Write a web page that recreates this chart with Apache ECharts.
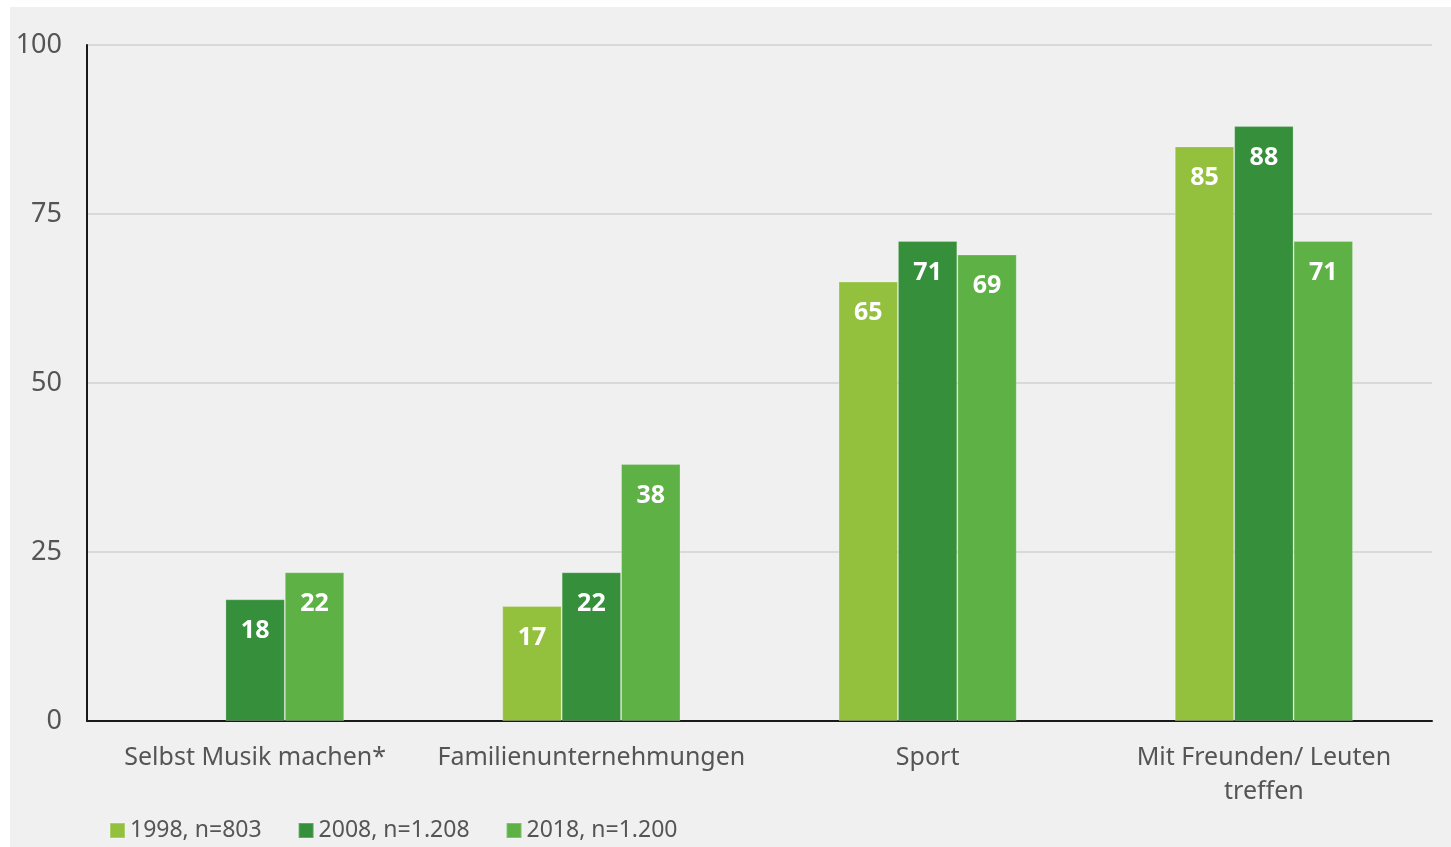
<!DOCTYPE html>
<html>
<head>
<meta charset="utf-8">
<script src="https://cdn.jsdelivr.net/npm/echarts@6/dist/echarts.min.js"></script>
<style>
  html, body { margin: 0; padding: 0; background: #ffffff; }
  #chart { width: 1451px; height: 847px; }
</style>
</head>
<body>
<div id="chart"></div>
<script>
// Freizeitaktivitäten im Vergleich der Erhebungsjahre (Angaben in Prozent)
const categories = ['Selbst Musik machen*', 'Familienunternehmungen', 'Sport', 'Mit Freunden/ Leuten\ntreffen'];
const seriesNames = ['1998, n=803', '2008, n=1.208', '2018, n=1.200'];
const values1998 = [null, 17, 65, 85];
const values2008 = [18, 22, 71, 88];
const values2018 = [22, 38, 69, 71];
const yTicks = [0, 25, 50, 75, 100];
const colors = ['#93c13e', '#368f3b', '#5eb145'];

const FONT = '"Noto Sans", "Open Sans", sans-serif';

const chart = echarts.init(document.getElementById('chart'), null, { renderer: 'canvas' });

function barSeries(name, data, color) {
  return {
    name: name,
    type: 'bar',
    data: data,
    barGap: '0%',
    barCategoryGap: '47%',
    itemStyle: { color: color, borderColor: 'rgba(255,255,255,0.22)', borderWidth: 1 },
    label: {
      show: true,
      position: 'insideTop',
      distance: 19,
      color: '#ffffff',
      fontFamily: FONT,
      fontWeight: 'bold',
      fontSize: 25
    }
  };
}

chart.setOption({
  backgroundColor: '#ffffff',
  animation: false,
  color: colors,
  graphic: [{
    type: 'rect',
    z: -10,
    silent: true,
    shape: { x: 10, y: 7, width: 1441, height: 840 },
    style: { fill: '#f0f0f0' }
  }],
  grid: { left: 87, right: 19, top: 45, bottom: 126, containLabel: false },
  legend: {
    left: 104,
    top: 814,
    itemWidth: 15,
    itemHeight: 15,
    itemGap: 36,
    icon: 'rect',
    textStyle: { fontFamily: FONT, fontSize: 23, color: '#555555' },
    data: seriesNames
  },
  xAxis: {
    type: 'category',
    data: categories,
    axisLine: { lineStyle: { color: '#1a1a1a', width: 2 } },
    axisTick: { show: false },
    axisLabel: {
      interval: 0,
      fontFamily: FONT,
      fontSize: 25,
      color: '#555555',
      margin: 20,
      lineHeight: 34
    }
  },
  yAxis: {
    type: 'value',
    min: yTicks[0],
    max: yTicks[yTicks.length - 1],
    interval: 25,
    axisLine: { show: true, lineStyle: { color: '#1a1a1a', width: 2 } },
    axisTick: { show: false },
    splitLine: { lineStyle: { color: '#d9d9d9', width: 2 } },
    axisLabel: {
      fontFamily: FONT,
      fontSize: 27,
      color: '#555555',
      margin: 25
    }
  },
  series: [
    barSeries(seriesNames[0], values1998, colors[0]),
    barSeries(seriesNames[1], values2008, colors[1]),
    barSeries(seriesNames[2], values2018, colors[2])
  ]
});
</script>
</body>
</html>
